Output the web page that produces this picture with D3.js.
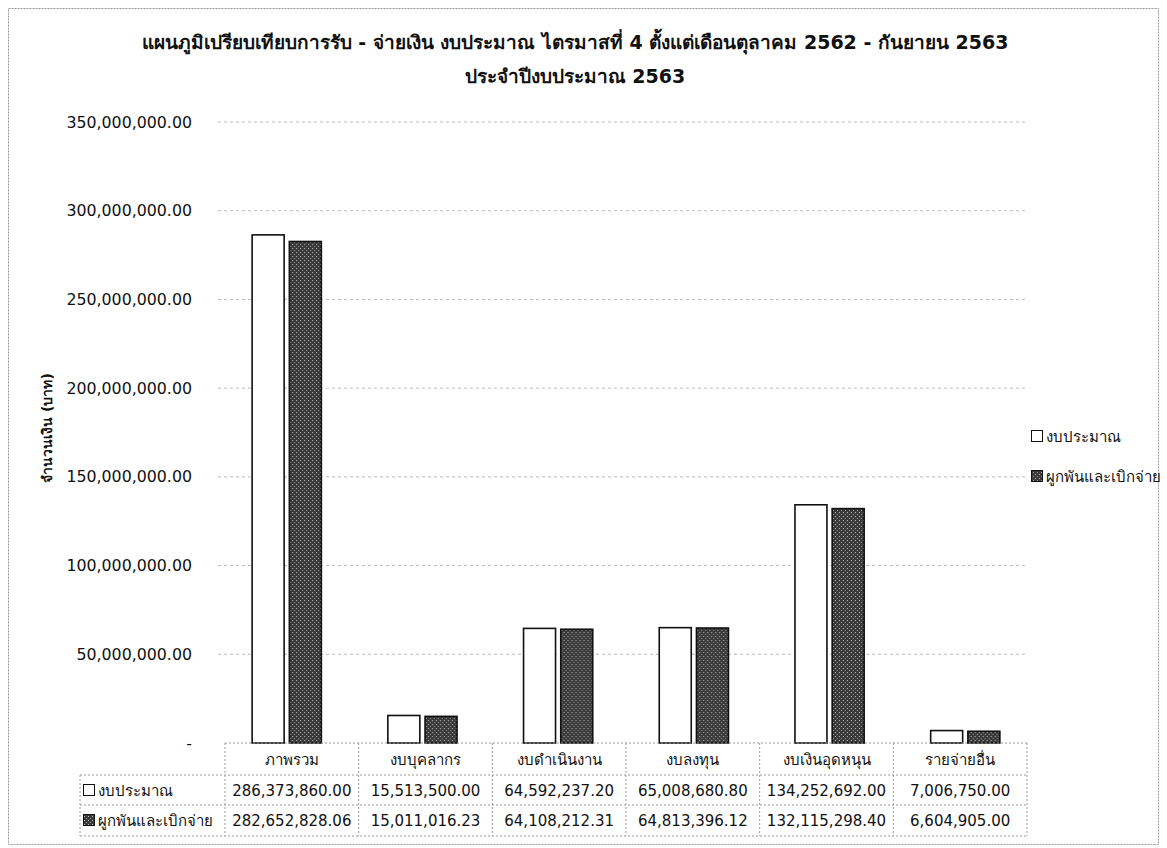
<!DOCTYPE html>
<html>
<head>
<meta charset="utf-8" />
<title>แผนภูมิเปรียบเทียบการรับ - จ่ายเงิน</title>
<script src="https://cdn.jsdelivr.net/npm/d3@7"></script>
<style>
    body {
        margin: 0;
        padding: 0;
        background: #fff;
    }
    text {
        font-family: Tahoma, "DejaVu Sans", "Noto Sans", sans-serif;
        fill: #111;
    }
</style>
</head>
<body>
<svg id="chart" width="1167" height="848"></svg>
<script>
    var categories = ["ภาพรวม", "งบบุคลากร", "งบดำเนินงาน", "งบลงทุน", "งบเงินอุดหนุน", "รายจ่ายอื่น"];
    var seriesNames = ["งบประมาณ", "ผูกพันและเบิกจ่าย"];
    var budget = [286373860.00, 15513500.00, 64592237.20, 65008680.80, 134252692.00, 7006750.00];
    var spent = [282652828.06, 15011016.23, 64108212.31, 64813396.12, 132115298.40, 6604905.00];
    var yTicks = [0, 50000000, 100000000, 150000000, 200000000, 250000000, 300000000, 350000000];

    var titleLines = ["แผนภูมิเปรียบเทียบการรับ - จ่ายเงิน งบประมาณ ไตรมาสที่ 4 ตั้งแต่เดือนตุลาคม 2562 - กันยายน 2563",
        "ประจำปีงบประมาณ 2563"];
    var yTitle = "จำนวนเงิน (บาท)";

    var svg = d3.select("#chart");
    var W = 1167, H = 848;
    var plotLeft = 225, plotRight = 1027, plotTop = 122, plotBottom = 743;

    var defs = svg.append("defs");
    var pat = defs.append("pattern")
        .attr("id", "dots")
        .attr("width", 4).attr("height", 4)
        .attr("patternUnits", "userSpaceOnUse");
    pat.append("rect").attr("width", 4).attr("height", 4).attr("fill", "#3a3a3a");
    pat.append("rect").attr("x", 0).attr("y", 0).attr("width", 1).attr("height", 1).attr("fill", "#bbb");
    pat.append("rect").attr("x", 2).attr("y", 2).attr("width", 1).attr("height", 1).attr("fill", "#999");

    // frame
    svg.append("rect")
        .attr("x", 8.5).attr("y", 8.5).attr("width", W - 17).attr("height", H - 12)
        .attr("fill", "none").attr("stroke", "#999").attr("stroke-dasharray", "2,1");

    // title
    svg.selectAll(".title").data(titleLines).enter()
        .append("text")
        .attr("x", 575).attr("y", function (d, i) { return 49 + i * 34; })
        .attr("text-anchor", "middle")
        .style("font-size", "19px")
        .style("font-weight", "bold")
        .text(function (d) { return d; });

    var y = d3.scaleLinear().domain([0, 350000000]).range([plotBottom, plotTop]);
    var x0 = d3.scaleBand().domain(categories).range([plotLeft, plotRight]).paddingInner(0.49).paddingOuter(0.2);
    var x1 = d3.scaleBand().domain([0, 1]).range([0, x0.bandwidth()]).paddingInner(0.14);

    var fmt = d3.format(",.2f");

    // gridlines
    svg.append("g")
        .selectAll("line").data(yTicks.slice(1)).enter()
        .append("line")
        .attr("x1", 218).attr("x2", 1025)
        .attr("y1", function (d) { return y(d); })
        .attr("y2", function (d) { return y(d); })
        .attr("stroke", "#bbb").attr("stroke-width", 1).attr("stroke-dasharray", "3,3");

    // y axis
    var yAxis = d3.axisLeft(y).tickValues(yTicks).tickSize(0).tickPadding(0)
        .tickFormat(function (d) { return d === 0 ? "-" : fmt(d); });
    var gy = svg.append("g").attr("transform", "translate(192,0)").call(yAxis);
    gy.select(".domain").remove();
    gy.selectAll("text")
        .style("font-size", "15.8px")
        .style("font-family", "Tahoma, 'DejaVu Sans', sans-serif")
        .attr("fill", "#111");

    svg.append("text")
        .attr("transform", "translate(52,428) rotate(-90)")
        .attr("text-anchor", "middle")
        .style("font-size", "14px")
        .style("font-weight", "bold")
        .text(yTitle);

    // bars
    var groups = svg.append("g").selectAll("g").data(categories).enter()
        .append("g")
        .attr("transform", function (d) { return "translate(" + x0(d) + ",0)"; });

    groups.append("rect")
        .attr("x", x1(0)).attr("width", x1.bandwidth())
        .attr("y", function (d, i) { return y(budget[i]); })
        .attr("height", function (d, i) { return plotBottom - y(budget[i]); })
        .attr("fill", "#fff").attr("stroke", "#111").attr("stroke-width", 1.6);

    groups.append("rect")
        .attr("x", x1(1)).attr("width", x1.bandwidth())
        .attr("y", function (d, i) { return y(spent[i]); })
        .attr("height", function (d, i) { return plotBottom - y(spent[i]); })
        .attr("fill", "url(#dots)").attr("stroke", "#111").attr("stroke-width", 1.6);

    // legend
    var legend = svg.append("g").attr("transform", "translate(1031,430)");
    seriesNames.forEach(function (name, i) {
        var g = legend.append("g").attr("transform", "translate(0," + i * 40 + ")");
        g.append("rect").attr("x", 0.5).attr("y", 0.5).attr("width", 11).attr("height", 11)
            .attr("fill", i === 0 ? "#fff" : "url(#dots)").attr("stroke", "#111");
        g.append("text").attr("x", 15).attr("y", 12).style("font-size", "15px").text(name);
    });

    // data table
    var colW = (plotRight - plotLeft) / categories.length;
    var rowTop = [743, 775, 805, 836];
    var table = svg.append("g");
    var dash = "2,2";

    function hline(x1v, x2v, yv) {
        table.append("line").attr("x1", x1v).attr("x2", x2v).attr("y1", yv).attr("y2", yv)
            .attr("stroke", "#999").attr("stroke-dasharray", dash);
    }
    function vline(xv, y1v, y2v) {
        table.append("line").attr("x1", xv).attr("x2", xv).attr("y1", y1v).attr("y2", y2v)
            .attr("stroke", "#999").attr("stroke-dasharray", dash);
    }
    hline(plotLeft, plotRight, rowTop[0]);
    hline(80, plotRight, rowTop[1]);
    hline(80, plotRight, rowTop[2]);
    hline(80, plotRight, rowTop[3]);
    vline(80, rowTop[1], rowTop[3]);
    categories.forEach(function (c, i) {
        vline(plotLeft + i * colW, rowTop[0], rowTop[3]);
    });
    vline(plotRight, rowTop[0], rowTop[3]);

    function colMid(i) { return plotLeft + (i + 0.5) * colW; }

    table.selectAll(".hdr").data(categories).enter()
        .append("text")
        .attr("x", function (d, i) { return colMid(i); })
        .attr("y", 765)
        .attr("text-anchor", "middle")
        .style("font-size", "15px")
        .text(function (d) { return d; });

    [budget, spent].forEach(function (vals, r) {
        var yy = rowTop[r + 1] + 21;
        table.append("rect").attr("x", 83.5).attr("y", yy - 11.5).attr("width", 11).attr("height", 11)
            .attr("fill", r === 0 ? "#fff" : "url(#dots)").attr("stroke", "#111");
        table.append("text").attr("x", 98).attr("y", yy)
            .style("font-size", "15px").text(seriesNames[r]);
        table.selectAll(".v" + r).data(vals).enter()
            .append("text")
            .attr("x", function (d, i) { return colMid(i); })
            .attr("y", yy)
            .attr("text-anchor", "middle")
            .style("font-size", "15px")
            .text(function (d) { return fmt(d); });
    });
</script>
</body>
</html>
